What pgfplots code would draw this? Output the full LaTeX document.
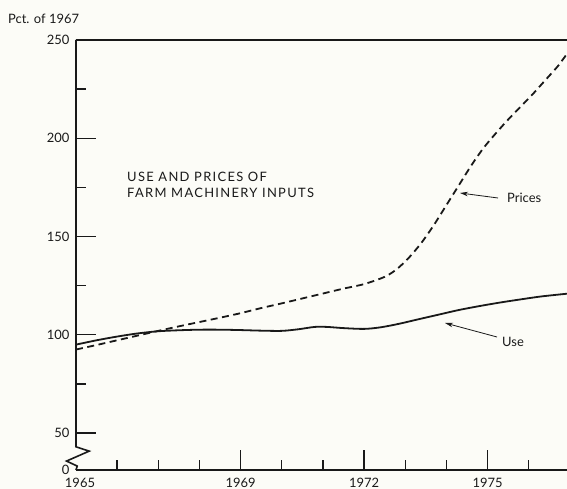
\documentclass[border=0pt]{standalone}
\usepackage{fontspec}
\setmainfont{Lato}
\newfontfamily\titlefont[LetterSpace=10]{Lato}
\usepackage{pgfplots}
\usepackage{pgfplotstable}
\pgfplotsset{compat=1.18}
\usetikzlibrary{arrows.meta}
\definecolor{bgc}{RGB}{252,252,247}
\definecolor{ink}{RGB}{25,25,25}

\pgfplotstableread{
year value
1965.0 95.0
1965.5 97.2
1966.0 99.1
1966.5 100.7
1967.0 101.8
1967.5 102.3
1968.0 102.6
1968.5 102.6
1969.0 102.4
1969.5 102.1
1970.0 102.0
1970.4 102.8
1970.8 104.0
1971.1 104.0
1971.5 103.4
1972.0 103.0
1972.4 103.8
1972.85 105.6
1973.3 107.8
1973.8 110.2
1974.3 112.6
1974.8 114.6
1975.3 116.4
1975.8 118.0
1976.3 119.5
1976.93 120.9
}\usedata

\pgfplotstableread{
year value
1965.0 92.5
1965.5 94.8
1966.0 97.2
1966.5 99.6
1967.0 102.0
1967.5 104.3
1968.0 106.5
1968.5 108.7
1969.0 111.0
1969.5 113.6
1970.0 116.0
1970.5 118.5
1971.0 121.0
1971.5 123.5
1972.0 125.8
1972.5 129.5
1972.8 133.5
1973.1 139.5
1973.4 147.0
1973.7 156.0
1974.0 166.0
1974.3 176.0
1974.6 186.0
1974.9 195.0
1975.2 202.5
1975.5 209.5
1975.8 216.0
1976.1 222.5
1976.4 229.5
1976.7 236.5
1976.93 243.0
}\pricedata

\begin{document}
\begin{tikzpicture}
\fill[bgc] (0bp,0bp) rectangle (567bp,489bp);
\useasboundingbox (0bp,0bp) rectangle (567bp,489bp);
\begin{axis}[
  at={(76bp,19bp)}, anchor=south west,
  scale only axis, width=491bp, height=430bp,
  xmin=1965, xmax=1976.93, ymin=31.2, ymax=250,
  axis x line*=bottom, axis y line*=left,
  y axis line style={draw=none},
  axis line style={line width=1.6bp, ink, -},
  xtick={1969,1972,1975},
  minor xtick={1966,1967,1968,1970,1971,1973,1974,1976},
  extra x ticks={1965}, extra x tick labels={1965},
  extra x tick style={major tick length=0pt, xticklabel style={xshift=4bp}},
  ytick={50,100,150,200,250},
  minor ytick={75,125,175,225},
  extra y ticks={31.2}, extra y tick labels={0},
  extra y tick style={major tick length=0pt},
  tick align=inside,
  major tick length=20bp, minor tick length=10bp,
  tick style={line width=1.4bp, ink},
  /pgf/number format/1000 sep={},
  /pgf/number format/assume math mode=true,
  ticklabel style={font=\fontsize{13}{15}\selectfont, text=ink},
  yticklabel style={xshift=-3bp},
  xticklabel style={yshift=-4.5bp},
  clip=false,
]
\addplot[ink, line width=1.8bp, smooth, tension=0.5] table[x=year,y=value] {\usedata};
\addplot[ink, line width=1.8bp, smooth, tension=0.5, dash pattern=on 7bp off 4.5bp] table[x=year,y=value] {\pricedata};
\draw[ink, line width=1.6bp] (axis cs:1965,250) -- (axis cs:1976.93,250);
\draw[ink, line width=1.6bp, line join=miter] (axis cs:1965,250) -- (axis cs:1965,43.0) -- (axis cs:1965.32,40.8) -- (axis cs:1964.77,35.75) -- (axis cs:1965.03,33.2) -- (axis cs:1965,31.2);
\end{axis}
\node[anchor=west, text=ink, font=\fontsize{13}{15}\selectfont, inner sep=0pt] at (8bp,470bp) {Pct. of 1967};
\node[anchor=west, text=ink, font=\titlefont\fontsize{13}{15}\selectfont, inner sep=0pt] at (127bp,312bp) {USE AND PRICES OF};
\node[anchor=west, text=ink, font=\titlefont\fontsize{13}{15}\selectfont, inner sep=0pt] at (127bp,296bp) {FARM MACHINERY INPUTS};
\node[anchor=west, text=ink, font=\fontsize{13}{15}\selectfont, inner sep=0pt] at (507bp,291bp) {Prices};
\node[anchor=west, text=ink, font=\fontsize{13}{15}\selectfont, inner sep=0pt] at (502bp,147bp) {Use};
\draw[ink, line width=0.8bp, -{Stealth[length=8bp,width=4.5bp]}] (498bp,291bp) -- (460bp,296bp);
\draw[ink, line width=0.8bp, -{Stealth[length=8bp,width=4.5bp]}] (497bp,152bp) -- (445bp,166bp);
\end{tikzpicture}
\end{document}
